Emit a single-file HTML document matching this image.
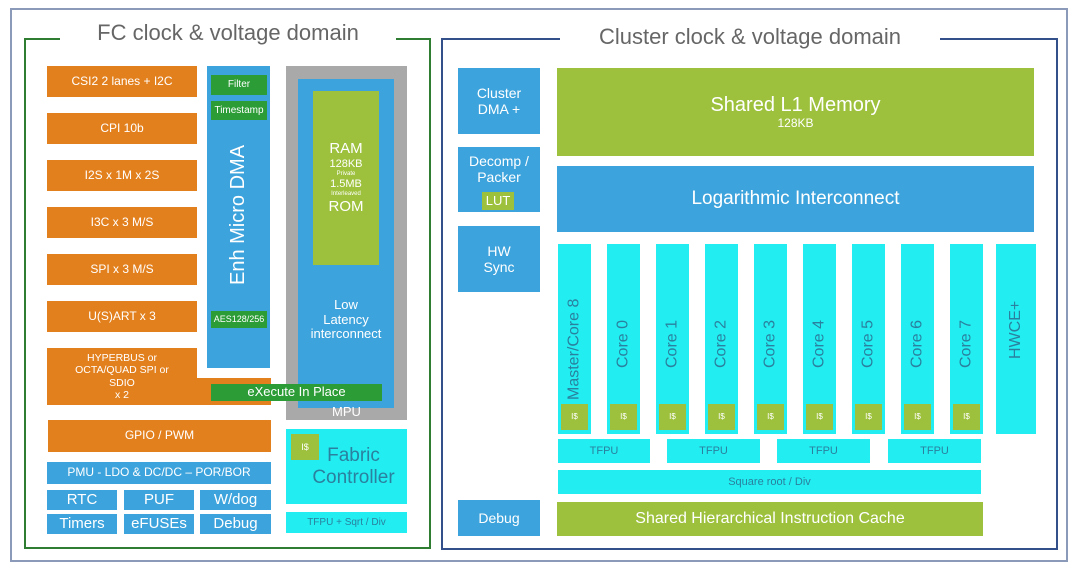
<!DOCTYPE html><html><head><style>
body{margin:0;width:1080px;height:570px;background:#fff;position:relative;overflow:hidden;font-family:"Liberation Sans",sans-serif}
div{position:absolute;box-sizing:border-box}
.b{display:flex;align-items:center;justify-content:center;text-align:center;color:#fff;line-height:1.15}
.o{background:#E3801E;font-size:12px}
.bl{background:#3DA3DC}
.g{background:#2B9C36}
.ol{background:#9DC13C}
.c{background:#22EEF2;color:#2A809E}
.v{writing-mode:vertical-rl;transform:rotate(180deg)}
</style></head><body>
<div style="left:10px;top:8px;width:1058px;height:554px;border:2px solid #8a9ab8"></div>
<div style="left:24px;top:38px;width:407px;height:511px;border:2px solid #2E7D32"></div>
<div style="left:441px;top:38px;width:617px;height:512px;border:2px solid #34508a"></div>
<div class="b" style="left:60px;top:16px;width:336px;height:34px;background:#fff;color:#666;font-size:22px">FC clock &amp; voltage domain</div>
<div class="b" style="left:560px;top:20px;width:380px;height:34px;background:#fff;color:#666;font-size:22px">Cluster clock &amp; voltage domain</div>

<div class="b o" style="left:47px;top:66px;width:150px;height:31px">CSI2 2 lanes + I2C</div>
<div class="b o" style="left:47px;top:113px;width:150px;height:31px">CPI 10b</div>
<div class="b o" style="left:47px;top:160px;width:150px;height:31px">I2S x 1M x 2S</div>
<div class="b o" style="left:47px;top:207px;width:150px;height:31px">I3C x 3 M/S</div>
<div class="b o" style="left:47px;top:254px;width:150px;height:31px">SPI x 3 M/S</div>
<div class="b o" style="left:47px;top:301px;width:150px;height:31px">U(S)ART x 3</div>
<div class="o" style="left:47px;top:348px;width:150px;height:57px"></div>
<div class="o" style="left:190px;top:378px;width:81px;height:27px"></div>
<div class="b" style="left:47px;top:348px;width:150px;height:57px;font-size:10.5px">HYPERBUS or<br>OCTA/QUAD SPI or<br>SDIO<br>x 2</div>
<div class="b o" style="left:48px;top:420px;width:223px;height:32px">GPIO / PWM</div>
<div class="b bl" style="left:47px;top:462px;width:224px;height:22px;font-size:12px">PMU - LDO &amp; DC/DC – POR/BOR</div>
<div class="b bl" style="left:47px;top:490px;width:70px;height:20px;font-size:15px">RTC</div>
<div class="b bl" style="left:124px;top:490px;width:70px;height:20px;font-size:15px">PUF</div>
<div class="b bl" style="left:200px;top:490px;width:71px;height:20px;font-size:15px">W/dog</div>
<div class="b bl" style="left:47px;top:514px;width:70px;height:20px;font-size:15px">Timers</div>
<div class="b bl" style="left:124px;top:514px;width:70px;height:20px;font-size:15px">eFUSEs</div>
<div class="b bl" style="left:200px;top:514px;width:71px;height:20px;font-size:15px">Debug</div>

<div class="bl" style="left:207px;top:66px;width:63px;height:302px"></div>
<div class="b v" style="left:207px;top:130px;width:63px;height:170px;font-size:20px">Enh Micro DMA</div>
<div class="b g" style="left:211px;top:75px;width:56px;height:20px;font-size:10px">Filter</div>
<div class="b g" style="left:211px;top:101px;width:56px;height:19px;font-size:10px">Timestamp</div>
<div class="b g" style="left:211px;top:311px;width:56px;height:17px;font-size:9px">AES128/256</div>

<div style="left:286px;top:66px;width:121px;height:354px;background:#A9A9A9"></div>
<div class="bl" style="left:298px;top:79px;width:96px;height:329px"></div>
<div class="ol" style="left:313px;top:91px;width:66px;height:174px"></div>
<div class="b" style="left:313px;top:130px;width:66px;height:96px;flex-direction:column;font-size:9px;line-height:1.2"><span style="font-size:15px">RAM</span><span style="font-size:11px">128KB</span><span style="font-size:6px">Private</span><span style="font-size:11px">1.5MB</span><span style="font-size:6px">Interleaved</span><span style="font-size:15px">ROM</span></div>
<div class="b" style="left:298px;top:295px;width:96px;height:50px;font-size:13px">Low<br>Latency<br>interconnect</div>
<div class="b g" style="left:211px;top:384px;width:171px;height:17px;font-size:13px">eXecute In Place</div>
<div class="b" style="left:286px;top:404px;width:121px;height:17px;font-size:13px">MPU</div>

<div class="b c" style="left:286px;top:429px;width:121px;height:75px;font-size:19px;padding-left:14px">Fabric<br>Controller</div>
<div class="b ol" style="left:291px;top:434px;width:28px;height:26px;font-size:9px">I$</div>
<div class="b c" style="left:286px;top:512px;width:121px;height:21px;font-size:10px">TFPU + Sqrt / Div</div>

<div class="b bl" style="left:458px;top:68px;width:82px;height:66px;font-size:14px">Cluster<br>DMA +</div>
<div class="bl" style="left:458px;top:147px;width:82px;height:65px"></div>
<div class="b" style="left:458px;top:150px;width:82px;height:38px;font-size:14px">Decomp /<br>Packer</div>
<div class="b ol" style="left:482px;top:192px;width:32px;height:18px;font-size:13px">LUT</div>
<div class="b bl" style="left:458px;top:226px;width:82px;height:66px;font-size:14px">HW<br>Sync</div>
<div class="b bl" style="left:458px;top:500px;width:82px;height:36px;font-size:14px">Debug</div>

<div class="b ol" style="left:557px;top:68px;width:477px;height:88px;flex-direction:column;font-size:20px">Shared L1 Memory<span style="font-size:12px">128KB</span></div>
<div class="b bl" style="left:557px;top:166px;width:477px;height:66px;font-size:19px">Logarithmic Interconnect</div>

<div class="c" style="left:558px;top:244px;width:33px;height:190px"></div><div class="b v c" style="left:558px;top:250px;width:33px;height:150px;font-size:16px;justify-content:flex-start">Master/Core 8</div><div class="b ol" style="left:561px;top:404px;width:27px;height:26px;font-size:8px">I$</div>
<div class="c" style="left:607px;top:244px;width:33px;height:190px"></div><div class="b v c" style="left:607px;top:250px;width:33px;height:118px;font-size:16px;justify-content:flex-start">Core 0</div><div class="b ol" style="left:610px;top:404px;width:27px;height:26px;font-size:8px">I$</div>
<div class="c" style="left:656px;top:244px;width:33px;height:190px"></div><div class="b v c" style="left:656px;top:250px;width:33px;height:118px;font-size:16px;justify-content:flex-start">Core 1</div><div class="b ol" style="left:659px;top:404px;width:27px;height:26px;font-size:8px">I$</div>
<div class="c" style="left:705px;top:244px;width:33px;height:190px"></div><div class="b v c" style="left:705px;top:250px;width:33px;height:118px;font-size:16px;justify-content:flex-start">Core 2</div><div class="b ol" style="left:708px;top:404px;width:27px;height:26px;font-size:8px">I$</div>
<div class="c" style="left:754px;top:244px;width:33px;height:190px"></div><div class="b v c" style="left:754px;top:250px;width:33px;height:118px;font-size:16px;justify-content:flex-start">Core 3</div><div class="b ol" style="left:757px;top:404px;width:27px;height:26px;font-size:8px">I$</div>
<div class="c" style="left:803px;top:244px;width:33px;height:190px"></div><div class="b v c" style="left:803px;top:250px;width:33px;height:118px;font-size:16px;justify-content:flex-start">Core 4</div><div class="b ol" style="left:806px;top:404px;width:27px;height:26px;font-size:8px">I$</div>
<div class="c" style="left:852px;top:244px;width:33px;height:190px"></div><div class="b v c" style="left:852px;top:250px;width:33px;height:118px;font-size:16px;justify-content:flex-start">Core 5</div><div class="b ol" style="left:855px;top:404px;width:27px;height:26px;font-size:8px">I$</div>
<div class="c" style="left:901px;top:244px;width:33px;height:190px"></div><div class="b v c" style="left:901px;top:250px;width:33px;height:118px;font-size:16px;justify-content:flex-start">Core 6</div><div class="b ol" style="left:904px;top:404px;width:27px;height:26px;font-size:8px">I$</div>
<div class="c" style="left:950px;top:244px;width:33px;height:190px"></div><div class="b v c" style="left:950px;top:250px;width:33px;height:118px;font-size:16px;justify-content:flex-start">Core 7</div><div class="b ol" style="left:953px;top:404px;width:27px;height:26px;font-size:8px">I$</div>
<div class="c" style="left:996px;top:244px;width:40px;height:190px"></div><div class="b v c" style="left:996px;top:260px;width:40px;height:140px;font-size:16px">HWCE+</div>

<div class="b c" style="left:558px;top:439px;width:92px;height:24px;font-size:11px">TFPU</div>
<div class="b c" style="left:667px;top:439px;width:93px;height:24px;font-size:11px">TFPU</div>
<div class="b c" style="left:777px;top:439px;width:93px;height:24px;font-size:11px">TFPU</div>
<div class="b c" style="left:888px;top:439px;width:93px;height:24px;font-size:11px">TFPU</div>
<div class="b c" style="left:558px;top:470px;width:423px;height:24px;font-size:11px">Square root / Div</div>
<div class="b ol" style="left:557px;top:502px;width:426px;height:34px;font-size:16px">Shared Hierarchical Instruction Cache</div>
</body></html>
